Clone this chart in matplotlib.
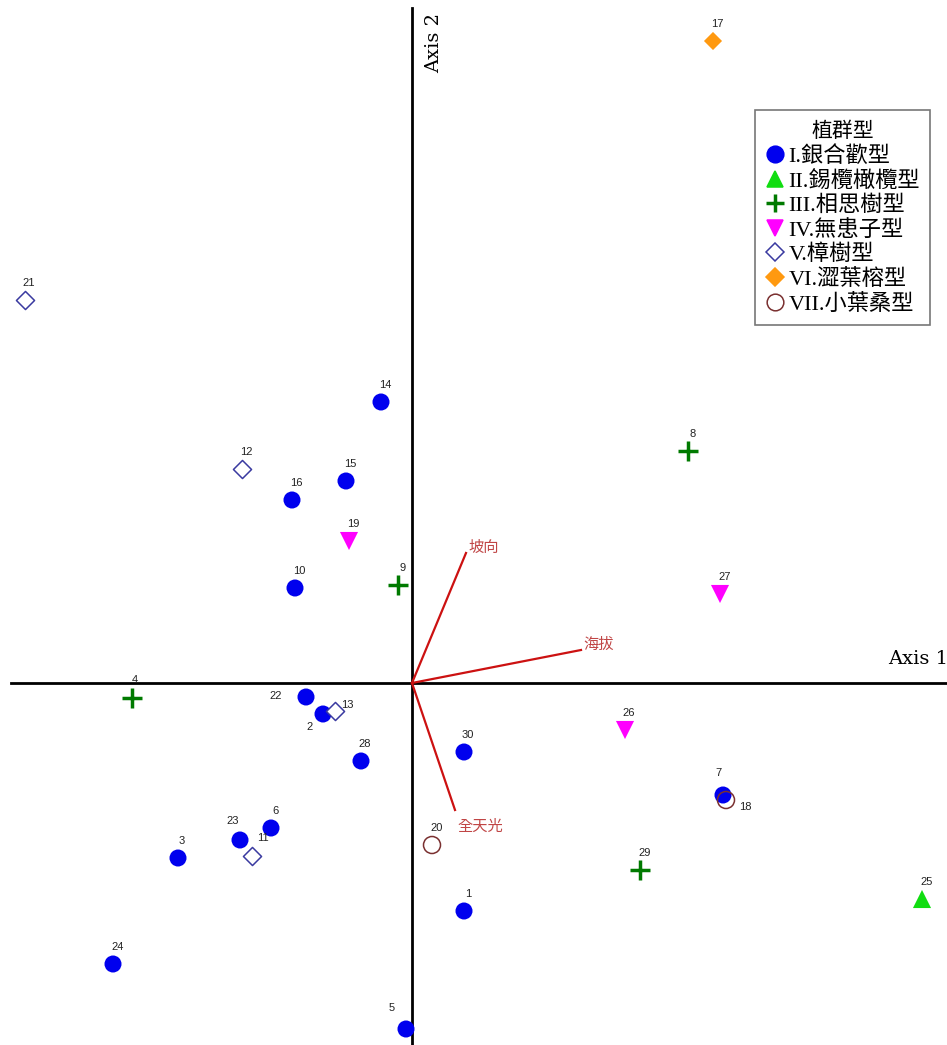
import matplotlib
matplotlib.use("Agg")
import matplotlib.pyplot as plt
from matplotlib.lines import Line2D

plt.rcParams['font.family'] = ['Liberation Sans', 'Noto Sans CJK TC', 'DejaVu Sans']

# Site scores on the first two ordination axes
ids_1 = [1, 2, 3, 5, 6, 7, 10, 14, 15, 16, 22, 23, 24, 28, 30]
x_1 = [0.52, -0.89, -2.34, -0.06, -1.41, 3.11, -1.17, -0.31, -0.66, -1.20, -1.06, -1.72, -2.99, -0.51, 0.52]
y_1 = [-2.28, -0.31, -1.75, -3.46, -1.45, -1.12, 0.95, 2.81, 2.02, 1.83, -0.14, -1.57, -2.81, -0.78, -0.69]

ids_2 = [25]
x_2 = [5.10]
y_2 = [-2.16]

ids_3 = [4, 8, 9, 29]
x_3 = [-2.80, 2.76, -0.14, 2.28]
y_3 = [-0.15, 2.32, 0.98, -1.87]

ids_4 = [19, 26, 27]
x_4 = [-0.63, 2.13, 3.08]
y_4 = [1.42, -0.47, 0.89]

ids_5 = [11, 12, 13, 21]
x_5 = [-1.60, -1.70, -0.77, -3.87]
y_5 = [-1.73, 2.14, -0.28, 3.83]

ids_6 = [17]
x_6 = [3.01]
y_6 = [6.42]

ids_7 = [18, 20]
x_7 = [3.14, 0.20]
y_7 = [-1.17, -1.62]

# Environmental vectors
env_names = ['坡向', '海拔', '全天光']
env_x = [0.54, 1.69, 0.43]
env_y = [1.30, 0.33, -1.27]

groups = ['I.銀合歡型', 'II.錫欖橄欖型', 'III.相思樹型', 'IV.無患子型',
          'V.樟樹型', 'VI.澀葉榕型', 'VII.小葉桑型']

styles = [
    dict(marker='o', s=150, c='#0000ee', edgecolors='none'),
    dict(marker='^', s=170, c='#11dd11', edgecolors='none'),
    dict(marker='+', s=200, c='#007a00', linewidths=2.5),
    dict(marker='v', s=170, c='#ff00ff', edgecolors='none'),
    dict(marker='D', s=85, facecolors='white', edgecolors='#3a3aa0', linewidths=1.1),
    dict(marker='D', s=85, c='#ff9910', edgecolors='none'),
    dict(marker='o', s=150, facecolors='none', edgecolors='#7a3030', linewidths=1.1),
]

# label offsets (points) for the site numbers; default sits above the mark
default_off = (3, 12)
label_off = {2: (-10, -9), 4: (2, 13), 5: (-10, 15), 11: (8, 13), 13: (9, 4),
             18: (14, -5), 22: (-22, 1), 23: (-5, 14), 7: (-3, 16)}

fig = plt.figure(figsize=(9.47, 10.45), dpi=100)
ax = fig.add_axes([0, 0, 1, 1])
ax.set_xlim(-4.12, 5.35)
ax.set_ylim(-3.62, 6.83)
ax.axis('off')

# axis lines through the origin
ax.plot([-4.01, 5.35], [0, 0], color='black', lw=2, zorder=1)
ax.plot([0, 0], [-3.62, 6.75], color='black', lw=2, zorder=1)
ax.text(5.36, 0.15, 'Axis 1', ha='right', va='bottom', fontsize=14,
        family='DejaVu Serif')
ax.text(0.13, 6.70, 'Axis 2', ha='left', va='top', rotation=90, fontsize=14,
        family='DejaVu Serif')

all_groups = [(ids_1, x_1, y_1), (ids_2, x_2, y_2), (ids_3, x_3, y_3), (ids_4, x_4, y_4),
              (ids_5, x_5, y_5), (ids_6, x_6, y_6), (ids_7, x_7, y_7)]
for (ids, xs, ys), st in zip(all_groups, styles):
    ax.scatter(xs, ys, zorder=3, **st)
    for i, xx, yy in zip(ids, xs, ys):
        off = label_off.get(i, default_off)
        ax.annotate(str(i), (xx, yy), xytext=off, textcoords='offset points',
                    ha='center', va='center', fontsize=8, color='#222222', zorder=4)

for name, ex, ey in zip(env_names, env_x, env_y):
    ax.plot([0, ex], [0, ey], color='#cc1111', lw=1.6, zorder=2)
    ax.annotate(name, (ex, ey), xytext=(2, 4 if ey > 0 else -12), textcoords='offset points',
                ha='left', va='center', fontsize=11, color='#c04545',
                family=['Noto Sans CJK TC'])

handles = []
for st in styles:
    m = st['marker']
    if m == '+':
        h = Line2D([], [], ls='none', marker='+', markersize=13, mew=2.5, color=st['c'])
    else:
        fc = st.get('c', st.get('facecolors'))
        ec = st.get('edgecolors') if st.get('edgecolors') != 'none' else fc
        ms = 12 if m in 'o^v' else 9
        h = Line2D([], [], ls='none', marker=m, markersize=ms, markerfacecolor=fc,
                   markeredgecolor=ec, mew=1.1)
    handles.append(h)

leg = fig.legend(handles, groups, title='植群型', loc='upper left',
                 bbox_to_anchor=(755 / 947, 1 - 110 / 1045), frameon=True,
                 fancybox=False, edgecolor='#555555', handletextpad=0.15,
                 handlelength=0.9, borderpad=0.45, borderaxespad=0, labelspacing=0.17,
                 prop={'family': ['Liberation Serif', 'Noto Sans CJK TC'], 'size': 16},
                 title_fontproperties={'family': ['Noto Sans CJK TC'], 'size': 15})
leg.get_frame().set_linewidth(1.2)

fig.savefig('out.png', dpi=100)
